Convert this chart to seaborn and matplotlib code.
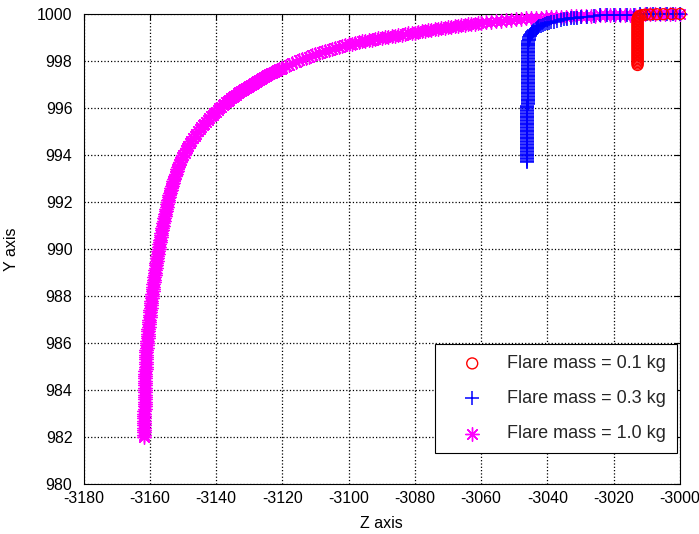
import matplotlib
matplotlib.use("Agg")
import matplotlib.pyplot as plt
import seaborn as sns

# Flare trajectories in the Z-Y plane, one series per flare mass
series_labels = ["Flare mass = 0.1 kg", "Flare mass = 0.3 kg", "Flare mass = 1.0 kg"]

red_z = [-3000.0, -3002.5, -3005.0, -3007.0, -3009.0, -3010.5, -3011.5, -3012.2, -3012.6, -3012.75,
         -3012.8, -3012.8, -3012.8, -3012.8, -3012.8, -3012.8, -3012.8, -3012.8, -3012.8, -3012.8,
         -3012.8, -3012.8, -3012.8, -3012.8, -3012.8, -3012.8, -3012.8, -3012.8, -3012.8, -3012.8,
         -3012.8, -3012.8, -3012.8, -3012.8, -3012.8, -3012.8, -3012.8, -3012.8, -3012.8, -3012.8,
         -3012.8, -3012.8, -3012.8]
red_y = [1000.00, 1000.00, 999.99, 999.99, 999.98, 999.97, 999.95, 999.92, 999.87, 999.81,
         999.75, 999.69, 999.63, 999.57, 999.51, 999.45, 999.39, 999.33, 999.27, 999.21,
         999.15, 999.09, 999.03, 998.97, 998.91, 998.85, 998.79, 998.73, 998.67, 998.61,
         998.55, 998.49, 998.43, 998.37, 998.31, 998.25, 998.19, 998.13, 998.07, 998.01,
         997.95, 997.89, 997.83]

blue_z = [-3000.0, -3002.0, -3004.0, -3006.0, -3008.0, -3010.0, -3012.0, -3014.0, -3016.0, -3018.0,
          -3020.0, -3022.0, -3024.0, -3026.0, -3028.0, -3030.0, -3031.0, -3032.0, -3033.0, -3034.0,
          -3035.0,
          -3036.0, -3037.0, -3038.0, -3038.8, -3039.5, -3040.2, -3040.8, -3041.4, -3041.9, -3042.4,
          -3042.8, -3043.2, -3043.6, -3044.0, -3044.3, -3044.6, -3044.8, -3045.0, -3045.2, -3045.35,
          -3045.5, -3045.6, -3045.7, -3045.75, -3045.8, -3045.85, -3045.9, -3045.92, -3045.95,
          -3046.0, -3046.0, -3046.0, -3046.0, -3046.0, -3046.0, -3046.0, -3046.0, -3046.0, -3046.0,
          -3046.0, -3046.0, -3046.0, -3046.0, -3046.0, -3046.0, -3046.0, -3046.0, -3046.0, -3046.0,
          -3046.0, -3046.0, -3046.0, -3046.0, -3046.0, -3046.0, -3046.0, -3046.0, -3046.0, -3046.0,
          -3046.0, -3046.0, -3046.0, -3046.0, -3046.0, -3046.0, -3046.0, -3046.0, -3046.0, -3046.0,
          -3046.1, -3046.1, -3046.1, -3046.1, -3046.1, -3046.1, -3046.1, -3046.1, -3046.1, -3046.1,
          -3046.1, -3046.1, -3046.1, -3046.1, -3046.1, -3046.1, -3046.1, -3046.1, -3046.1, -3046.1,
          -3046.1, -3046.1, -3046.1, -3046.1, -3046.1, -3046.1, -3046.1, -3046.1, -3046.1, -3046.1,
          -3046.1, -3046.1, -3046.1, -3046.1, -3046.1, -3046.1, -3046.1, -3046.1, -3046.1, -3046.1,
          -3046.1]
blue_y = [1000.00, 1000.00, 999.99, 999.99, 999.99, 999.98, 999.98, 999.97, 999.97, 999.96,
          999.96, 999.95, 999.94, 999.92, 999.89, 999.86, 999.85, 999.83, 999.81, 999.79,
          999.77,
          999.74, 999.71, 999.68, 999.65, 999.63, 999.60, 999.57, 999.54, 999.51, 999.48,
          999.44, 999.41, 999.37, 999.33, 999.29, 999.25, 999.20, 999.15, 999.10, 999.05,
          999.00, 998.95, 998.89, 998.84, 998.78, 998.73, 998.67, 998.62, 998.56,
          998.50, 998.44, 998.38, 998.32, 998.26, 998.20, 998.14, 998.08, 998.02, 997.96,
          997.90, 997.84, 997.78, 997.72, 997.66, 997.60, 997.54, 997.48, 997.42, 997.36,
          997.30, 997.24, 997.18, 997.12, 997.06, 997.00, 996.94, 996.88, 996.82, 996.76,
          996.70, 996.64, 996.58, 996.52, 996.46, 996.40, 996.34, 996.28, 996.22, 996.16,
          996.10, 996.04, 995.98, 995.92, 995.86, 995.80, 995.74, 995.68, 995.62, 995.56,
          995.50, 995.44, 995.38, 995.32, 995.26, 995.20, 995.14, 995.08, 995.02, 994.96,
          994.90, 994.84, 994.78, 994.72, 994.66, 994.60, 994.54, 994.48, 994.42, 994.36,
          994.30, 994.24, 994.18, 994.12, 994.06, 994.00, 993.94, 993.88, 993.82, 993.76,
          993.72]

magenta_z = [
    # near-horizontal start
    -3000.0, -3001.5, -3003.0, -3004.5, -3006.0, -3007.5, -3009.0, -3010.5, -3012.0, -3013.5,
    -3015.0, -3016.5, -3018.0, -3019.5, -3021.0, -3022.5, -3024.0, -3025.5, -3027.0, -3028.5,
    -3030.0, -3031.5, -3033.0, -3034.5, -3036.0, -3037.5, -3039.0, -3040.5, -3042.0, -3043.5,
    -3045.0, -3046.5, -3048.0, -3049.5, -3051.0, -3052.5, -3054.0, -3055.5, -3057.0, -3058.5,
    # bending
    -3060.0, -3061.0, -3062.0, -3063.0, -3064.0, -3065.0, -3066.0, -3067.0, -3068.0, -3069.0,
    -3070.0, -3071.0, -3072.0, -3073.0, -3074.0, -3075.0, -3076.0, -3077.0, -3078.0, -3079.0,
    -3080.0, -3081.0, -3082.0, -3083.0, -3084.0, -3085.0, -3086.0, -3087.0, -3088.0, -3089.0,
    -3090.0, -3091.0, -3092.0, -3093.0, -3094.0, -3095.0, -3096.0, -3097.0, -3098.0, -3099.0,
    -3100.0, -3101.0, -3102.0, -3103.0, -3104.0, -3105.0, -3106.0, -3107.0, -3108.0, -3109.0,
    -3110.0, -3111.0, -3112.0, -3113.0, -3114.0, -3115.0, -3116.0, -3117.0, -3118.0, -3119.0,
    -3120.0, -3120.5, -3121.0, -3121.5, -3122.0, -3122.5, -3123.0, -3123.5, -3124.0, -3124.5,
    -3125.0, -3125.5, -3126.0, -3126.5, -3127.0, -3127.5, -3128.0, -3128.5, -3129.0, -3129.5,
    -3130.0, -3130.5, -3131.0, -3131.5, -3132.0, -3132.5, -3133.0, -3133.5, -3134.0, -3134.5,
    -3135.0, -3135.5, -3136.0, -3136.5, -3137.0, -3137.5, -3138.0, -3138.5, -3139.0, -3139.5,
    -3140.0, -3140.5, -3141.0, -3141.5, -3142.0, -3142.5, -3143.0, -3143.5, -3144.0, -3144.5,
    -3145.0, -3145.5, -3146.0, -3146.5, -3147.0,
    # near-vertical fall
    -3147.50, -3147.95, -3148.36, -3148.76, -3149.14, -3149.50, -3149.86, -3150.19, -3150.50, -3150.81,
    -3151.11, -3151.38, -3151.65, -3151.92, -3152.16, -3152.40, -3152.63, -3152.86, -3153.08, -3153.28,
    -3153.48, -3153.68, -3153.88, -3154.07, -3154.24, -3154.41, -3154.59, -3154.76, -3154.93, -3155.09,
    -3155.24, -3155.39, -3155.54, -3155.69, -3155.84, -3155.99, -3156.12, -3156.25, -3156.38, -3156.51,
    -3156.64, -3156.77, -3156.90, -3157.02, -3157.13, -3157.25, -3157.36, -3157.47, -3157.58, -3157.70,
    -3157.81, -3157.92, -3158.03, -3158.13, -3158.22, -3158.32, -3158.42, -3158.51, -3158.61, -3158.71,
    -3158.81, -3158.90, -3159.00, -3159.08, -3159.17, -3159.25, -3159.33, -3159.42, -3159.50, -3159.58,
    -3159.67, -3159.75, -3159.83, -3159.92, -3160.00, -3160.07, -3160.13, -3160.20, -3160.27, -3160.33,
    -3160.40, -3160.47, -3160.53, -3160.60, -3160.67, -3160.73, -3160.80, -3160.87, -3160.93, -3161.00,
    -3161.04, -3161.07, -3161.11, -3161.14, -3161.18, -3161.21, -3161.25, -3161.28, -3161.32, -3161.35,
    -3161.37, -3161.39, -3161.41, -3161.43, -3161.45, -3161.47, -3161.49, -3161.51, -3161.53, -3161.55,
    -3161.56, -3161.57, -3161.58, -3161.59, -3161.60, -3161.61, -3161.62, -3161.63, -3161.63, -3161.64,
    -3161.65, -3161.66, -3161.67, -3161.67, -3161.68, -3161.69, -3161.70,
]
magenta_y = [
    1000.00, 1000.00, 999.99, 999.99, 999.99, 999.98, 999.98, 999.98, 999.97, 999.97,
    999.96, 999.96, 999.96, 999.95, 999.95, 999.94, 999.94, 999.93, 999.93, 999.92,
    999.92, 999.91, 999.90, 999.89, 999.89, 999.88, 999.87, 999.86, 999.85, 999.84,
    999.82, 999.81, 999.79, 999.78, 999.76, 999.74, 999.72, 999.70, 999.68, 999.65,
    999.63, 999.61, 999.59, 999.57, 999.56, 999.54, 999.52, 999.50, 999.48, 999.46,
    999.44, 999.42, 999.40, 999.37, 999.35, 999.33, 999.30, 999.28, 999.26, 999.23,
    999.21, 999.19, 999.17, 999.14, 999.12, 999.10, 999.08, 999.06, 999.03, 999.01,
    998.99, 998.96, 998.94, 998.91, 998.88, 998.85, 998.83, 998.80, 998.77, 998.74,
    998.71, 998.67, 998.63, 998.59, 998.55, 998.51, 998.47, 998.43, 998.38, 998.34,
    998.30, 998.25, 998.19, 998.14, 998.09, 998.03, 997.97, 997.91, 997.84, 997.78,
    997.71, 997.68, 997.64, 997.61, 997.57, 997.54, 997.50, 997.47, 997.43, 997.39,
    997.35, 997.32, 997.28, 997.24, 997.20, 997.16, 997.12, 997.08, 997.04, 996.99,
    996.95, 996.91, 996.86, 996.82, 996.77, 996.72, 996.67, 996.62, 996.57, 996.52,
    996.47, 996.42, 996.36, 996.30, 996.24, 996.18, 996.12, 996.06, 995.99, 995.92,
    995.85, 995.78, 995.71, 995.64, 995.56, 995.49, 995.41, 995.34, 995.26, 995.18,
    995.09, 995.00, 994.91, 994.81, 994.71,
    994.60, 994.50, 994.40, 994.30, 994.20, 994.10, 994.00, 993.90, 993.80, 993.70,
    993.60, 993.50, 993.40, 993.30, 993.20, 993.10, 993.00, 992.90, 992.80, 992.70,
    992.60, 992.50, 992.40, 992.30, 992.20, 992.10, 992.00, 991.90, 991.80, 991.70,
    991.60, 991.50, 991.40, 991.30, 991.20, 991.10, 991.00, 990.90, 990.80, 990.70,
    990.60, 990.50, 990.40, 990.30, 990.20, 990.10, 990.00, 989.90, 989.80, 989.70,
    989.60, 989.50, 989.40, 989.30, 989.20, 989.10, 989.00, 988.90, 988.80, 988.70,
    988.60, 988.50, 988.40, 988.30, 988.20, 988.10, 988.00, 987.90, 987.80, 987.70,
    987.60, 987.50, 987.40, 987.30, 987.20, 987.10, 987.00, 986.90, 986.80, 986.70,
    986.60, 986.50, 986.40, 986.30, 986.20, 986.10, 986.00, 985.90, 985.80, 985.70,
    985.60, 985.50, 985.40, 985.30, 985.20, 985.10, 985.00, 984.90, 984.80, 984.70,
    984.60, 984.50, 984.40, 984.30, 984.20, 984.10, 984.00, 983.90, 983.80, 983.70,
    983.60, 983.50, 983.40, 983.30, 983.20, 983.10, 983.00, 982.90, 982.80, 982.70,
    982.60, 982.50, 982.40, 982.30, 982.20, 982.10, 982.00,
]

x_ticks = [-3180, -3160, -3140, -3120, -3100, -3080, -3060, -3040, -3020, -3000]
y_ticks = [980, 982, 984, 986, 988, 990, 992, 994, 996, 998, 1000]

sns.set_theme(style="white")
plt.rcParams["font.family"] = ["Liberation Sans", "DejaVu Sans"]
plt.rcParams["axes.unicode_minus"] = False

fig = plt.figure(figsize=(6.99, 5.34), dpi=100)
ax = fig.add_axes([0.1195, 0.0936, 0.8533, 0.8802])

# heaviest flare first so the lighter ones sit on top
sns.scatterplot(x=magenta_z, y=magenta_y, marker=(8, 2, 0), s=95, color="#ff00ff",
                edgecolor="#ff00ff", linewidth=1.0, label=series_labels[2],
                clip_on=False, zorder=3, ax=ax)
h_mag = ax.collections[-1]
sns.scatterplot(x=blue_z, y=blue_y, marker="+", s=90, color="#0000ff",
                edgecolor="#0000ff", linewidth=1.1, label=series_labels[1],
                clip_on=False, zorder=4, ax=ax)
h_blue = ax.collections[-1]
sns.scatterplot(x=red_z, y=red_y, marker="o", s=62, color="#ff0000",
                edgecolor="#ff0000", linewidth=1.0, label=series_labels[0],
                clip_on=False, zorder=5, ax=ax)
h_red = ax.collections[-1]
h_red.set_facecolor("none")
h_red.set_edgecolor("#ff0000")

ax.set_xlim(-3180, -3000)
ax.set_ylim(980, 1000)
ax.set_xticks(x_ticks)
ax.set_yticks(y_ticks)
ax.set_xticklabels([str(v) for v in x_ticks])
ax.set_yticklabels([str(v) for v in y_ticks])

ax.grid(True, linestyle=":", color="black", linewidth=0.9)
ax.set_axisbelow(True)
for sp in ax.spines.values():
    sp.set_color("black")
    sp.set_linewidth(0.8)
    sp.set_visible(True)
ax.tick_params(direction="in", length=4, width=0.8, top=True, right=True,
               labelsize=11.5, colors="black", pad=5)
ax.tick_params(axis="y", pad=8)

ax.set_xlabel("Z axis", fontsize=11.5, color="black", labelpad=7)
ax.set_ylabel("Y axis", fontsize=11.5, color="black", labelpad=13)

leg = ax.legend(handles=[h_red, h_blue, h_mag], labels=series_labels,
                loc="upper left", bbox_to_anchor=(0.589, 0.298), borderaxespad=0,
                fontsize=13, frameon=True, fancybox=False, shadow=False,
                framealpha=1, edgecolor="black", borderpad=0.62,
                labelspacing=1.0, handlelength=2.9, handletextpad=0.45,
                scatterpoints=1)
leg.get_frame().set_linewidth(0.8)

fig.savefig("out.png", dpi=100, facecolor="white")
